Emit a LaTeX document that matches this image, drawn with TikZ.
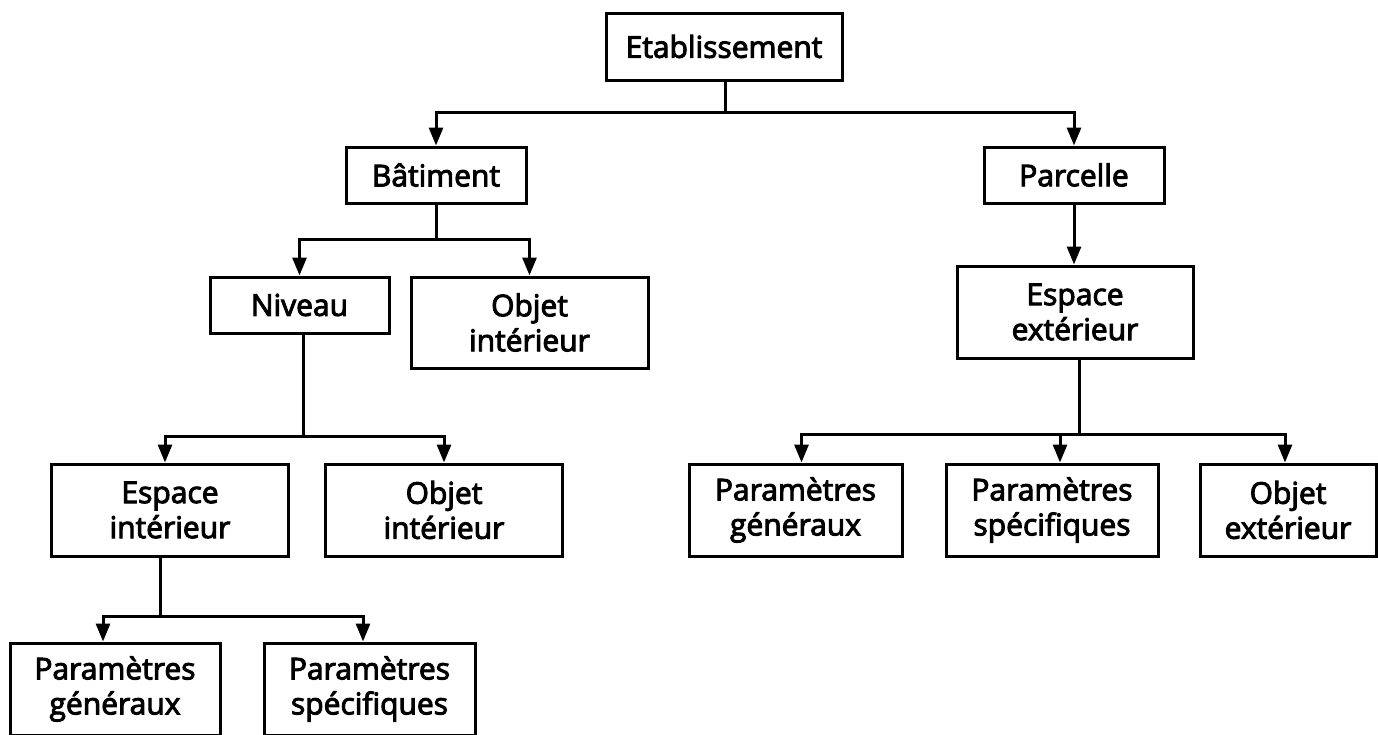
\documentclass[tikz,border=0pt]{standalone}
\usepackage{fontspec}
\setmainfont{Open Sans}
\newfontfamily\labelfont{Open Sans}[FakeBold=3.2]
\usetikzlibrary{arrows.meta}
\begin{document}
\begin{tikzpicture}[x=1pt,y=-1pt,
  box/.style={draw, line width=3pt, align=center, inner sep=0pt,
              font=\labelfont\fontsize{30}{35}\selectfont},
  link/.style={line width=3pt},
  arr/.style={link, -{Triangle[length=18pt,width=14pt]}}]
\useasboundingbox (0,0) rectangle (1378,734);

% boxes
\node[box, minimum width=236pt, minimum height=67pt] (etab) at (724,46.5) {Etablissement};
\node[box, minimum width=180pt, minimum height=56pt] (bat) at (436,175) {Bâtiment};
\node[box, minimum width=180pt, minimum height=56pt] (parc) at (1074,175) {Parcelle};
\node[box, minimum width=179pt, minimum height=56pt] (niv) at (299.5,305) {Niveau};
\node[box, minimum width=237pt, minimum height=91pt] (oint1) at (529.5,322.5) {Objet\\intérieur};
\node[box, minimum width=236pt, minimum height=92pt] (eext) at (1075,312) {Espace\\extérieur};
\node[box, minimum width=237pt, minimum height=92pt] (eint) at (170,510) {Espace\\intérieur};
\node[box, minimum width=237pt, minimum height=92pt] (oint2) at (444,510) {Objet\\intérieur};
\node[box, minimum width=213pt, minimum height=92pt] (pgen1) at (795.5,510) {Paramètres\\généraux};
\node[box, minimum width=212pt, minimum height=92pt] (pspec1) at (1052,510) {Paramètres\\spécifiques};
\node[box, minimum width=176pt, minimum height=92pt] (oext) at (1288,510) {Objet\\extérieur};
\node[box, minimum width=210pt, minimum height=92pt] (pgen2) at (115,689) {Paramètres\\généraux};
\node[box, minimum width=211pt, minimum height=92pt] (pspec2) at (369.5,689) {Paramètres\\spécifiques};

% bus junctions
\coordinate (b1) at (725,112);
\coordinate (b2) at (436.7,239);
\coordinate (b3) at (303.6,436);
\coordinate (b4) at (1079.5,434);
\coordinate (b5) at (160,616);

% Etablissement
\draw[link] (etab.south -| b1) -- (b1);
\draw[arr] (b1) -| (bat.north);
\draw[arr] (b1) -| (parc.north);

% Batiment
\draw[link] (bat.south -| b2) -- (b2);
\draw[arr] (b2) -| (niv.north);
\draw[arr] (b2) -| (oint1.north);

% Parcelle
\draw[arr] (parc.south) -- (parc.south |- eext.north);

% Niveau
\draw[link] (niv.south -| b3) -- (b3);
\draw[arr] (b3) -| ([xshift=-5pt]eint.north);
\draw[arr] (b3) -| (oint2.north);

% Espace exterieur
\draw[link] (eext.south -| b4) -- (b4);
\draw[arr] (b4) -| ([xshift=6pt]pgen1.north);
\draw[arr] (b4) -| ([xshift=8pt]pspec1.north);
\draw[arr] (b4) -| ([xshift=-3pt]oext.north);

% Espace interieur
\draw[link] (eint.south -| b5) -- (b5);
\draw[arr] (b5) -| ([xshift=-12pt]pgen2.north);
\draw[arr] (b5) -| ([xshift=-6.5pt]pspec2.north);
\end{tikzpicture}
\end{document}
